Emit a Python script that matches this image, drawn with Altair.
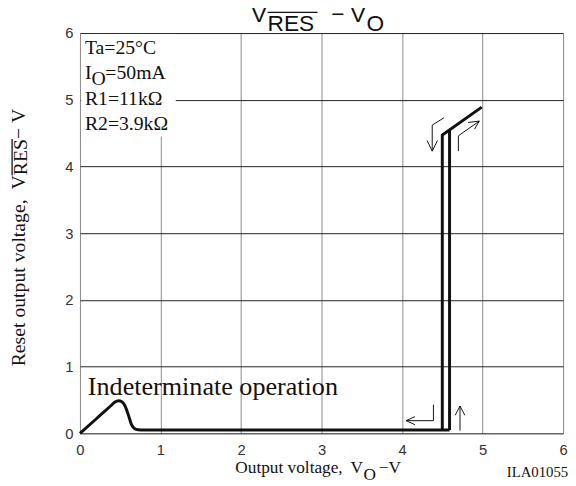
import altair as alt
import pandas as pd

# ---------------- data ----------------
# low-voltage curve: indeterminate hump then flat output
low_x = [0, 0.2, 0.38, 0.43, 0.48, 0.52, 0.56, 0.60, 0.64, 0.68, 0.72, 0.80, 4.59]
low_y = [0, 0.215, 0.41, 0.465, 0.49, 0.475, 0.41, 0.28, 0.13, 0.07, 0.055, 0.05, 0.05]

# falling branch (VO decreasing) and rising branch (VO increasing)
down_x = [4.99, 4.50, 4.50]
down_y = [4.89, 4.47, 0.05]
up_x = [4.59, 4.59]
up_y = [0.05, 4.55]

# direction arrows (shaft polylines and open heads)
arrow_shafts = {
    "a1": ([4.52, 4.375, 4.375], [4.73, 4.62, 4.23]),
    "a2": ([4.70, 4.70, 4.96], [4.23, 4.46, 4.68]),
    "a3": ([4.39, 4.39, 4.05], [0.43, 0.19, 0.19]),
    "a4": ([4.72, 4.72], [0.04, 0.41]),
}
arrow_heads = {
    "h1": ([4.31, 4.375, 4.44], [4.39, 4.23, 4.39]),
    "h2": ([4.82, 4.96, 4.90], [4.66, 4.68, 4.56]),
    "h3": ([4.16, 4.05, 4.16], [0.25, 0.19, 0.13]),
    "h4": ([4.66, 4.72, 4.78], [0.27, 0.41, 0.27]),
}

tick_values = [0, 1, 2, 3, 4, 5, 6]

# annotation text (serif, horizontal)
serif_texts = ["Ta=25°C", "I", "O", "=50mA", "R1=11kΩ", "R2=3.9kΩ",
               "Indeterminate operation",
               "Output voltage,", "V", "O", "−V", "ILA01055"]
serif_x = [0.061, 0.061, 0.143, 0.315, 0.061, 0.061,
           0.098,
           1.93, 3.36, 3.52, 3.71, 5.30]
serif_y = [5.689, 5.305, 5.216, 5.305, 4.921, 4.551,
           0.581,
           -0.591, -0.591, -0.695, -0.591, -0.650]
serif_size = [20, 20, 20, 20, 20, 20,
              26.5,
              17.5, 17.5, 17.5, 17.5, 15]

# y-axis title pieces (rotated)
ytitle_texts = ["Reset output voltage,", "V", "RES", "\u00a0−\u00a0V"]
ytitle_x = [-0.686, -0.686, -0.661, -0.686]
ytitle_y = [1.005, 3.656, 3.870, 4.412]

# chart title pieces (sans)
title_texts = ["V", "RES", "−", "V", "O"]
title_x = [2.131, 2.33, 3.12, 3.36, 3.56]
title_y = [6.162, 6.029, 6.162, 6.162, 6.029]

# overlines (x1, x2, y1, y2)
overlines = [
    (2.33, 2.95, 6.31, 6.31),
    (-0.843, -0.843, 3.870, 4.412),
]

# white box behind condition text
box = (0.015, 1.19, 4.45, 5.985)

# ---------------- build tables ----------------
def line_df(xs, ys, name):
    return pd.DataFrame({"x": xs, "y": ys, "s": name, "o": list(range(len(xs)))})

low_df = line_df(low_x, low_y, "low")
hyst_df = pd.concat([line_df(down_x, down_y, "down"), line_df(up_x, up_y, "up")])
arrow_df = pd.concat([line_df(v[0], v[1], k) for k, v in {**arrow_shafts, **arrow_heads}.items()])

serif_df = pd.DataFrame({"x": serif_x, "y": serif_y, "t": serif_texts, "size": serif_size})
ytitle_df = pd.DataFrame({"x": ytitle_x, "y": ytitle_y, "t": ytitle_texts})
title_df = pd.DataFrame({"x": title_x, "y": title_y, "t": title_texts})
over_df = pd.DataFrame(overlines, columns=["x", "x2", "y", "y2"])
box_df = pd.DataFrame([box], columns=["x", "x2", "y", "y2"])

xs = alt.Scale(domain=[0, 6], nice=False, zero=False)
ys = alt.Scale(domain=[0, 6], nice=False, zero=False)

X = alt.X("x:Q", scale=xs, axis=alt.Axis(values=tick_values, title=None, grid=True,
          gridColor="#8a8a8a", gridWidth=1, ticks=False, domain=False,
          labelFont="Liberation Sans", labelFontSize=15, labelColor="#333",
          labelPadding=9, labelFlush=False))
Y = alt.Y("y:Q", scale=ys, axis=alt.Axis(values=tick_values, title=None, grid=True,
          gridColor="#222", gridWidth=1, ticks=False, domain=False,
          labelFont="Liberation Sans", labelFontSize=15, labelColor="#333",
          labelPadding=7, labelFlush=False))

box_layer = alt.Chart(box_df).mark_rect(color="white").encode(
    x=X, x2="x2:Q", y=Y, y2="y2:Q")

low_layer = alt.Chart(low_df).mark_line(color="#111", strokeWidth=3, interpolate="monotone").encode(
    x=X, y=Y, order="o:Q")

hyst_layer = alt.Chart(hyst_df).mark_line(color="#111", strokeWidth=3, strokeJoin="miter").encode(
    x=X, y=Y, detail="s:N", order="o:Q")

arrow_layer = alt.Chart(arrow_df).mark_line(color="#111", strokeWidth=1).encode(
    x=X, y=Y, detail="s:N", order="o:Q")

over_layer = alt.Chart(over_df).mark_rule(color="#111", strokeWidth=1.3).encode(
    x=X, x2="x2:Q", y=Y, y2="y2:Q")

serif_layer = alt.Chart(serif_df).mark_text(
    font="Liberation Serif", align="left", baseline="alphabetic", color="#111").encode(
    x=X, y=Y, text="t:N", size=alt.Size("size:Q", scale=None))

ytitle_layer = alt.Chart(ytitle_df).mark_text(
    font="Liberation Serif", fontSize=20, align="left", baseline="alphabetic",
    angle=270, color="#111").encode(x=X, y=Y, text="t:N")

title_layer = alt.Chart(title_df).mark_text(
    font="Liberation Sans", fontSize=23, align="left", baseline="alphabetic",
    color="#111").encode(x=X, y=Y, text="t:N")

chart = alt.layer(
    box_layer, low_layer, hyst_layer, arrow_layer, over_layer,
    serif_layer, ytitle_layer, title_layer
).properties(
    width=490, height=406,
    autosize=alt.AutoSizeParams(type="none"),
    padding={"left": 73, "top": 22, "right": 5, "bottom": 50},
).configure_view(stroke="#111", strokeWidth=1.5).configure(background="white")

chart.save("out.html", embed_options={"renderer": "svg", "actions": False})
